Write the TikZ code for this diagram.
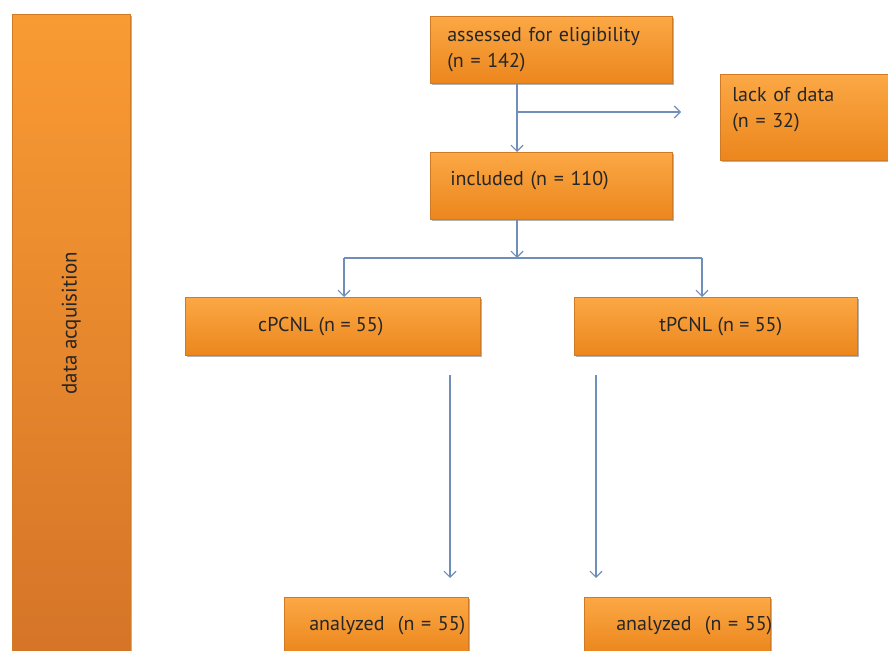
\documentclass[tikz,border=0pt]{standalone}
\usepackage{fontspec}
\setmainfont{PT Sans}
\usepackage{xcolor}
\usetikzlibrary{arrows.meta,shadows}

\definecolor{boxtop}{HTML}{FBA845}
\definecolor{boxbot}{HTML}{EC861D}
\definecolor{bartop}{HTML}{F99B33}
\definecolor{barbot}{HTML}{D47327}
\definecolor{boxedge}{HTML}{D07A25}
\definecolor{flowblue}{HTML}{6F8FBA}

\begin{document}
\begin{tikzpicture}[x=1pt,y=-1pt,
    box/.style={rectangle, anchor=north west, draw=boxedge, line width=0.6pt,
      top color=boxtop, bottom color=boxbot, text=black!85, inner ysep=0pt,
      drop shadow={shadow xshift=2pt, shadow yshift=-2pt, opacity=0.6},
      font=\fontsize{20}{26}\selectfont},
    flowline/.style={draw=flowblue, line width=1.1pt},
    flowarrow/.style={flowline, -{Straight Barb[length=6pt,width=12pt]}}]
    \useasboundingbox (0,0) rectangle (888,650);
    \clip (0,0) rectangle (888,650);

    \node[box, top color=bartop, bottom color=barbot, minimum width=118pt, minimum height=660pt,
      inner xsep=0pt, text depth=42pt, font=\fontsize{21}{24}\selectfont] (acq) at (12,14) {\rotatebox{90}{data acquisition}};

    \node[box, minimum width=242pt, minimum height=67pt, inner xsep=17pt, text width=208pt, align=left] (assessed) at (430,16) {assessed for eligibility\\(n = 142)};
    \node[box, minimum width=180pt, minimum height=86pt, inner xsep=12pt, text width=156pt, align=left, text depth=45pt] (lack) at (720,74) {lack of data\\(n = 32)};
    \node[box, minimum width=242pt, minimum height=67pt, inner xsep=20pt, text width=202pt, align=left, text depth=15pt] (included) at (430,152) {included (n = 110)};
    \node[box, minimum width=295pt, minimum height=58pt, inner xsep=0pt] (cpcnl) at (185,297) {\hspace*{-24pt}cPCNL (n = 55)};
    \node[box, minimum width=283pt, minimum height=58pt, inner xsep=0pt] (tpcnl) at (574,297) {\hspace*{10pt}tPCNL (n = 55)};
    \node[box, minimum width=184pt, minimum height=56pt, inner xsep=3pt, text width=178pt, align=right] (anl) at (284,597) {analyzed\ \ (n = 55)};
    \node[box, minimum width=186pt, minimum height=56pt, inner xsep=0pt, text width=186pt, align=right] (anr) at (584,597) {analyzed\ \ (n = 55)\hspace*{-2pt}};

    \coordinate (spine) at (517,0);
    \coordinate (split) at (517,112);
    \coordinate (lackin) at (681,112);
    \coordinate (fork) at (517,258);
    \coordinate (armL) at (344,258);
    \coordinate (armR) at (702,258);
    \coordinate (downLa) at (450,375);
    \coordinate (downLb) at (450,578);
    \coordinate (downRa) at (596,375);
    \coordinate (downRb) at (596,578);

    \draw[flowarrow] (assessed.south -| spine) -- (included.north -| spine);
    \draw[flowarrow] (split) -- (lackin);
    \draw[flowarrow] (included.south -| spine) -- (fork);
    \draw[flowline] (armL) -- (armR);
    \draw[flowarrow] (armL) -- (cpcnl.north -| armL);
    \draw[flowarrow] (armR) -- (tpcnl.north -| armR);
    \draw[flowarrow] (downLa) -- (downLb);
    \draw[flowarrow] (downRa) -- (downRb);
\end{tikzpicture}
\end{document}
